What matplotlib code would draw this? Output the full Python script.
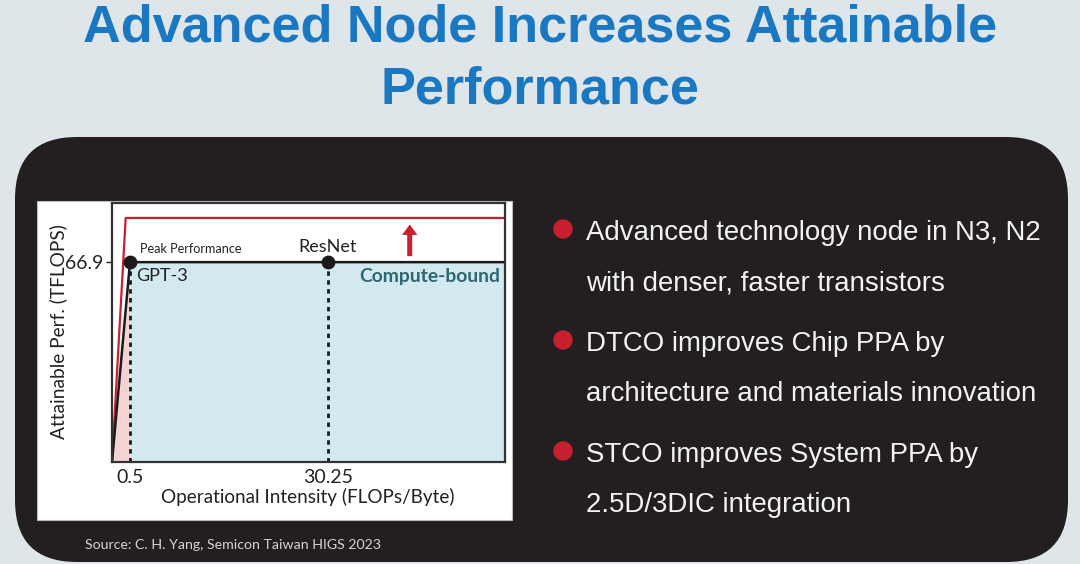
import numpy as np
import matplotlib
matplotlib.use("Agg")
import matplotlib.pyplot as plt
from matplotlib.patches import FancyBboxPatch, Rectangle, Circle

# Datos del gráfico roofline
peak_perf = 66.9            # TFLOPS
ridge_gpt3 = 0.5            # FLOPs/Byte
ridge_resnet = 30.25        # FLOPs/Byte
new_peak = 81.7             # techo del nodo avanzado (esquemático)
new_ridge = 0.38
x_max = 57.0
y_max = 86.7

x_ticks = [0.5, 30.25]
x_tick_labels = ["0.5", "30.25"]
y_ticks = [66.9]
y_tick_labels = ["66.9"]

titulo = ["Advanced Node Increases Attainable", "Performance"]
bullets = [
    ["Advanced technology node in N3, N2", "with denser, faster transistors"],
    ["DTCO improves Chip PPA by", "architecture and materials innovation"],
    ["STCO improves System PPA by", "2.5D/3DIC integration"],
]
fuente = "Source: C. H. Yang, Semicon Taiwan HIGS 2023"

# Colores
fondo = "#dfe6e9"
negro_panel = "#231f20"
azul_titulo = "#1a78c2"
rojo = "#c8202f"
azul_claro = "#d2e9ef"
rosa = "#f4d3d3"
teal = "#2f6676"

W, H = 1080, 564
fig = plt.figure(figsize=(W / 100, H / 100), dpi=100, facecolor=fondo)

# Capa de fondo en coordenadas de píxel
bg = fig.add_axes([0, 0, 1, 1])
bg.set_xlim(0, W)
bg.set_ylim(H, 0)
bg.axis("off")

bg.add_patch(FancyBboxPatch((15, 137), 1053, 425,
                            boxstyle="round,pad=0,rounding_size=62",
                            facecolor=negro_panel, edgecolor="none"))
bg.add_patch(Rectangle((37, 201), 475, 319, facecolor="white",
                       edgecolor="#bbbbbb", lw=0.8))

for i, linea in enumerate(titulo):
    bg.text(540, 42 + i * 62, linea, ha="center", va="baseline",
            fontsize=37.6, fontweight="bold", color=azul_titulo,
            family="Liberation Sans")

for j, par in enumerate(bullets):
    y0 = 240 + j * 111
    bg.add_patch(Circle((563, y0 - 11), 9, color=rojo))
    for k, linea in enumerate(par):
        bg.text(586, y0 + k * 50, linea, ha="left", va="baseline",
                fontsize=19.9, color="#f2f2f2", family="Liberation Sans")

bg.text(85, 549, fuente, ha="left", va="baseline", fontsize=10.2,
        color="#d4d4d4", family="Lato")

# Eje del gráfico con escala esquemática por tramos
xd = [0, ridge_gpt3, ridge_resnet, x_max]
xp = [0, 18, 216, 393]


def fwd(x):
    return np.interp(x, xd, xp)


def inv(p):
    return np.interp(p, xp, xd)


ax = fig.add_axes([112 / W, (H - 462) / H, 393 / W, 259 / H])
ax.set_xscale("function", functions=(fwd, inv))
ax.set_xlim(0, x_max)
ax.set_ylim(0, y_max)
ax.set_facecolor("white")

ax.fill_between([0, ridge_gpt3], [0, peak_perf], 0, color=rosa, lw=0)
ax.fill_between([ridge_gpt3, x_max], peak_perf, 0, color=azul_claro, lw=0)

ax.plot([0, new_ridge, x_max], [0, new_peak, new_peak], color=rojo, lw=1.6)
ax.plot([0, ridge_gpt3, x_max], [0, peak_perf, peak_perf], color="#1a1a1a", lw=1.8)
ax.vlines([ridge_gpt3, ridge_resnet], 0, peak_perf, colors="#1a1a1a",
          linestyles=(0, (1.6, 1.6)), lw=2)
ax.scatter([ridge_gpt3, ridge_resnet], [peak_perf, peak_perf], s=80,
           color="#1a1a1a", zorder=5)

ax.annotate("Peak Performance", (ridge_gpt3, peak_perf), xytext=(10, 7),
            textcoords="offset pixels", fontsize=9.1, family="Lato",
            color="#222222", va="bottom")
ax.annotate("GPT-3", (ridge_gpt3, peak_perf), xytext=(6, -14),
            textcoords="offset pixels", fontsize=13, family="Lato",
            color="#222222", va="center")
ax.annotate("ResNet", (ridge_resnet, peak_perf), xytext=(0, 15),
            textcoords="offset pixels", fontsize=13, family="Lato",
            color="#222222", va="center", ha="center")
ax.annotate("Compute-bound", (x_max, peak_perf), xytext=(-5, -14),
            textcoords="offset pixels", fontsize=13.9, family="Lato",
            fontweight="bold", color=teal, va="center", ha="right")
ax.annotate("", xy=(42.6, 79.5), xytext=(42.6, 68.9),
            arrowprops=dict(facecolor=rojo, edgecolor="none", width=3.6,
                            headwidth=11, headlength=7.5, shrink=0))

ax.set_xticks(x_ticks)
ax.set_xticklabels(x_tick_labels, family="Lato", fontsize=14)
ax.set_yticks(y_ticks)
ax.set_yticklabels(y_tick_labels, family="Lato", fontsize=14)
ax.tick_params(axis="x", length=0, pad=5, colors="#222222")
ax.tick_params(axis="y", length=4, width=1, pad=2, colors="#222222")
ax.minorticks_off()
ax.set_xlabel("Operational Intensity (FLOPs/Byte)", family="Lato",
              fontsize=13.6, color="#222222")
ax.set_ylabel("Attainable Perf. (TFLOPS)", family="Lato",
              fontsize=13.8, color="#222222")
# posiciones de las etiquetas de ejes (en píxeles de la figura)
ax.xaxis.set_label_coords((308 - 112) / 393, (462 - 497) / 259)
ax.yaxis.set_label_coords((58 - 112) / 393, (462 - 332) / 259)
ax.xaxis.label.set_va("center")
ax.yaxis.label.set_va("center")
for s in ax.spines.values():
    s.set_color("#333333")
    s.set_linewidth(1.6)

fig.savefig("out.png", dpi=100, facecolor=fondo)
